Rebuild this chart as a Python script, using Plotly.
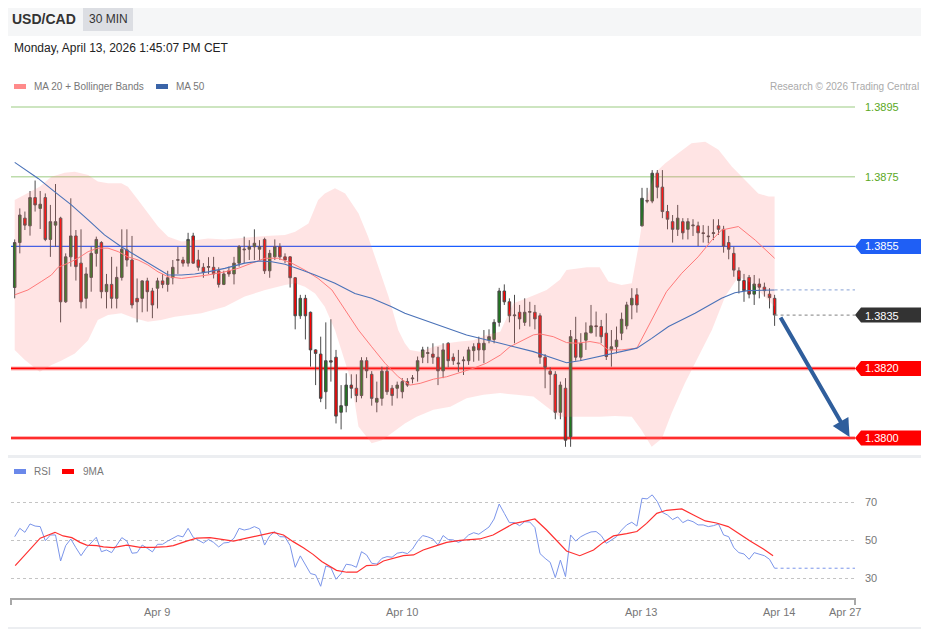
import plotly.graph_objects as go

# The page body has an 8px margin, so the figure is sized and positioned to compensate.
OFF = 8
W, H = 929 - OFF, 629 - OFF
def fx(px): return (px - OFF) / W
def fy(py): return 1 - (py - OFF) / H

# ---------------- data ----------------
candle_idx = list(range(150))
opens = [1.38432,1.38561,1.38631,1.38609,1.38690,1.38659,1.38690,1.38570,1.38611,1.38631,
1.38391,1.38520,1.38580,1.38502,1.38401,1.38461,1.38530,1.38561,1.38420,1.38441,
1.38401,1.38461,1.38540,1.38511,1.38401,1.38401,1.38451,1.38422,1.38430,1.38451,
1.38441,1.38460,1.38510,1.38511,1.38502,1.38580,1.38511,1.38490,1.38490,1.38490,
1.38480,1.38441,1.38480,1.38471,1.38502,1.38540,1.38542,1.38549,1.38542,1.38570,
1.38480,1.38520,1.38549,1.38520,1.38520,1.38460,1.38351,1.38401,1.38361,1.38253,
1.38241,1.38133,1.38222,1.38232,1.38074,1.38093,1.38152,1.38143,1.38122,1.38222,
1.38183,1.38103,1.38114,1.38192,1.38143,1.38143,1.38133,1.38162,1.38170,1.38193,
1.38232,1.38243,1.38241,1.38232,1.38193,1.38272,1.38232,1.38213,1.38222,1.38222,
1.38251,1.38272,1.38253,1.38281,1.38283,1.38332,1.38422,1.38391,1.38351,1.38361,
1.38332,1.38361,1.38361,1.38351,1.38232,1.38192,1.38183,1.38074,1.38143,1.38004,
1.38283,1.38232,1.38281,1.38302,1.38322,1.38320,1.38301,1.38253,1.38262,1.38301,
1.38322,1.38382,1.38411,1.38609,1.38682,1.38680,1.38760,1.38720,1.38650,1.38621,
1.38599,1.38621,1.38599,1.38609,1.38609,1.38589,1.38580,1.38587,1.38609,1.38599,
1.38561,1.38530,1.38480,1.38452,1.38461,1.38413,1.38442,1.38433,1.38413,1.38401]
highs = [1.38570,1.38659,1.38650,1.38709,1.38739,1.38709,1.38702,1.38669,1.38729,1.38635,
1.38530,1.38688,1.38597,1.38599,1.38490,1.38549,1.38578,1.38565,1.38471,1.38520,
1.38492,1.38599,1.38599,1.38580,1.38458,1.38453,1.38460,1.38431,1.38460,1.38471,
1.38480,1.38511,1.38549,1.38520,1.38589,1.38589,1.38540,1.38502,1.38519,1.38520,
1.38490,1.38480,1.38492,1.38520,1.38554,1.38578,1.38568,1.38599,1.38568,1.38575,
1.38540,1.38570,1.38559,1.38530,1.38522,1.38462,1.38411,1.38411,1.38363,1.38255,
1.38291,1.38332,1.38341,1.38253,1.38152,1.38186,1.38183,1.38183,1.38232,1.38232,
1.38192,1.38162,1.38205,1.38205,1.38152,1.38162,1.38172,1.38172,1.38181,1.38234,
1.38262,1.38262,1.38272,1.38262,1.38272,1.38275,1.38243,1.38253,1.38234,1.38262,
1.38272,1.38291,1.38310,1.38312,1.38341,1.38431,1.38441,1.38401,1.38411,1.38382,
1.38401,1.38391,1.38382,1.38358,1.38241,1.38203,1.38192,1.38162,1.38172,1.38310,
1.38348,1.38301,1.38332,1.38382,1.38363,1.38339,1.38358,1.38310,1.38320,1.38360,
1.38391,1.38430,1.38430,1.38718,1.38718,1.38769,1.38769,1.38769,1.38669,1.38640,
1.38669,1.38631,1.38631,1.38628,1.38621,1.38611,1.38609,1.38628,1.38628,1.38609,
1.38580,1.38549,1.38490,1.38471,1.38468,1.38468,1.38458,1.38446,1.38430,1.38411]
lows = [1.38401,1.38530,1.38597,1.38581,1.38650,1.38600,1.38565,1.38520,1.38549,1.38332,
1.38388,1.38492,1.38452,1.38372,1.38372,1.38420,1.38492,1.38401,1.38372,1.38372,
1.38372,1.38452,1.38492,1.38372,1.38332,1.38361,1.38363,1.38344,1.38372,1.38430,
1.38420,1.38441,1.38471,1.38492,1.38492,1.38500,1.38480,1.38460,1.38471,1.38458,
1.38432,1.38439,1.38463,1.38441,1.38492,1.38502,1.38511,1.38511,1.38511,1.38471,
1.38460,1.38511,1.38511,1.38502,1.38432,1.38312,1.38342,1.38283,1.38205,1.38152,
1.38103,1.38083,1.38162,1.38042,1.38025,1.38074,1.38114,1.38103,1.38114,1.38172,
1.38093,1.38074,1.38093,1.38124,1.38093,1.38114,1.38114,1.38147,1.38157,1.38162,
1.38215,1.38215,1.38213,1.38152,1.38172,1.38203,1.38210,1.38190,1.38181,1.38210,
1.38219,1.38222,1.38215,1.38272,1.38272,1.38320,1.38382,1.38332,1.38272,1.38312,
1.38322,1.38320,1.38312,1.38213,1.38143,1.38124,1.38054,1.38054,1.37975,1.37975,
1.38222,1.38222,1.38253,1.38301,1.38291,1.38272,1.38224,1.38205,1.38243,1.38281,
1.38312,1.38341,1.38360,1.38607,1.38674,1.38674,1.38688,1.38631,1.38599,1.38561,
1.38580,1.38570,1.38570,1.38580,1.38551,1.38561,1.38559,1.38568,1.38583,1.38532,
1.38513,1.38463,1.38415,1.38391,1.38401,1.38382,1.38401,1.38406,1.38372,1.38322]
closes = [1.38561,1.38640,1.38611,1.38690,1.38669,1.38671,1.38570,1.38621,1.38621,1.38391,
1.38520,1.38580,1.38492,1.38391,1.38471,1.38530,1.38570,1.38420,1.38441,1.38401,
1.38461,1.38542,1.38511,1.38382,1.38391,1.38451,1.38420,1.38382,1.38451,1.38441,
1.38460,1.38490,1.38512,1.38502,1.38570,1.38502,1.38490,1.38475,1.38492,1.38471,
1.38441,1.38471,1.38471,1.38502,1.38549,1.38542,1.38549,1.38559,1.38549,1.38480,
1.38530,1.38549,1.38520,1.38511,1.38460,1.38351,1.38401,1.38351,1.38253,1.38243,
1.38114,1.38222,1.38218,1.38063,1.38093,1.38152,1.38143,1.38122,1.38222,1.38193,
1.38114,1.38114,1.38192,1.38133,1.38122,1.38152,1.38162,1.38152,1.38172,1.38222,
1.38253,1.38245,1.38232,1.38193,1.38253,1.38222,1.38222,1.38215,1.38224,1.38253,
1.38262,1.38253,1.38272,1.38291,1.38332,1.38422,1.38391,1.38351,1.38353,1.38342,
1.38361,1.38363,1.38342,1.38232,1.38203,1.38183,1.38074,1.38152,1.37994,1.38291,
1.38232,1.38272,1.38302,1.38322,1.38320,1.38291,1.38234,1.38262,1.38281,1.38341,
1.38382,1.38401,1.38382,1.38688,1.38680,1.38760,1.38720,1.38650,1.38628,1.38599,
1.38631,1.38589,1.38621,1.38611,1.38589,1.38587,1.38578,1.38589,1.38599,1.38551,
1.38542,1.38482,1.38452,1.38423,1.38413,1.38442,1.38433,1.38423,1.38403,1.38353]

ma20_x = [0,2.6,5.2,7.2,8.5,10.5,12.4,14.4,16.3,18.3,20.3,22.2,24.2,26.1,28.1,30.1,32.7,35.3,37.9,41.2,
43.8,46.5,49.1,51.7,54.3,56.9,59.5,62.2,64.8,67.4,70,72.6,75.2,77.5,79.5,82.1,84.7,87.3,89.9,92.5,
95.2,97.1,99.1,101.7,103,105.6,108.2,110.2,112.8,114.7,116.4,119,122,124.9,127.8,130.8,134,136.7,138.6,141.9,
145.2,149]
ma20_y = [1.38411,1.38425,1.38449,1.38468,1.38490,1.38502,1.38516,1.38535,1.38545,1.38545,1.38535,1.38520,1.38511,1.38497,1.38477,1.38463,1.38458,1.38463,1.38468,1.38477,
1.38487,1.38502,1.38516,1.38516,1.38502,1.38482,1.38458,1.38425,1.38367,1.38310,1.38262,1.38215,1.38176,1.38152,1.38157,1.38169,1.38176,1.38188,1.38200,1.38215,
1.38238,1.38262,1.38277,1.38296,1.38299,1.38291,1.38274,1.38272,1.38277,1.38272,1.38253,1.38253,1.38258,1.38339,1.38420,1.38473,1.38520,1.38568,1.38597,1.38607,
1.38568,1.38516]

ma50_x = [0,4.6,7.8,11.1,14.4,17.6,20.9,24.2,27.5,30.1,32.7,35.3,37.9,41.2,45.1,48.1,50.4,53,56.3,58.9,
62.8,66.7,70,73.9,76.5,82.1,88.6,95.2,101.7,105.6,108.2,110.8,114.7,117.7,122,124.9,128.2,133.4,138.6,141.2,
143.8,149]
ma50_y = [1.38791,1.38745,1.38707,1.38669,1.38626,1.38583,1.38549,1.38520,1.38492,1.38468,1.38468,1.38471,1.38477,1.38487,1.38502,1.38508,1.38506,1.38499,1.38482,1.38468,
1.38444,1.38415,1.38401,1.38377,1.38358,1.38329,1.38296,1.38272,1.38248,1.38229,1.38216,1.38222,1.38234,1.38243,1.38258,1.38286,1.38320,1.38358,1.38401,1.38417,
1.38423,1.38425]

bb_up_x = [0,4.9,7.2,9.8,11.8,14.4,16.3,18.3,20.9,22.2,24.2,26.1,28.1,30.1,32.7,35.3,37.9,41.2,45.1,49.1,
53,55,57.6,59.5,60.8,62.8,64.8,67.4,69.3,71.3,73.3,75.2,76.5,77.5,79.5,82.1,84.7,87.3,89.9,92.5,
95.2,97.8,100.4,104.3,106.9,108.2,112.2,114.7,116.4,119,121,122.3,123.6,125.5,127.5,130.1,132.7,135.4,138,140.6,
143.2,145.8,147.8,149]
bb_up_y = [1.38683,1.38721,1.38750,1.38761,1.38764,1.38755,1.38736,1.38731,1.38731,1.38721,1.38683,1.38645,1.38607,1.38578,1.38564,1.38568,1.38573,1.38570,1.38576,1.38580,
1.38583,1.38592,1.38616,1.38683,1.38702,1.38717,1.38702,1.38645,1.38578,1.38492,1.38406,1.38310,1.38272,1.38253,1.38248,1.38262,1.38272,1.38277,1.38281,1.38296,
1.38305,1.38387,1.38401,1.38425,1.38454,1.38482,1.38490,1.38490,1.38449,1.38439,1.38444,1.38549,1.38674,1.38760,1.38788,1.38817,1.38846,1.38850,1.38827,1.38779,
1.38741,1.38702,1.38693,1.38693]
bb_lo_x = [0,2,4.9,7.2,9.1,11.8,14.4,16.3,18.3,20.9,23.5,26.1,28.7,31.4,34,36.6,41.2,45.1,49.1,53,
55,56.9,58.9,60.8,62.8,64.8,66.1,67.4,70,72,73.9,76.5,78.8,82.1,85.4,88.6,91.9,95.2,98.4,101.7,
104.3,106.9,109.5,112.2,114.7,117.7,121,122.9,124.9,126.9,128.8,131.4,134,136.7,139.3,141.9,144.5,147.1,149]
bb_lo_y = [1.38253,1.38224,1.38190,1.38210,1.38222,1.38243,1.38281,1.38339,1.38353,1.38358,1.38344,1.38334,1.38339,1.38348,1.38353,1.38358,1.38377,1.38406,1.38425,1.38439,
1.38444,1.38434,1.38415,1.38377,1.38310,1.38215,1.38157,1.38033,1.37985,1.37994,1.38014,1.38042,1.38061,1.38081,1.38090,1.38114,1.38124,1.38129,1.38124,1.38119,
1.38090,1.38061,1.38061,1.38061,1.38061,1.38063,1.38061,1.38023,1.37975,1.37999,1.38071,1.38157,1.38234,1.38310,1.38406,1.38463,1.38444,1.38406,1.38377]

rsi = [51.9,56.3,54.2,58.6,57.5,57.2,49.8,52.8,52.8,39.1,
47.2,50.7,46.1,41.9,45.8,48.9,51.6,44.0,44.9,43.5,
47.5,51.4,49.6,43.2,43.5,47.5,45.8,43.9,47.9,47.9,
49.6,51.1,52.5,51.8,56.3,51.6,50.2,48.6,50.4,48.9,
46.5,48.6,48.9,51.1,56.3,55.4,56.0,57.2,56.0,47.5,
52.3,54.6,51.9,51.8,47.2,35.8,41.8,37.4,32.5,31.8,
25.8,36.5,35.6,29.5,32.5,37.4,37.0,35.8,44.0,42.3,
37.9,37.5,40.5,41.4,41.1,43.2,43.7,43.0,45.4,49.6,
52.5,51.8,50.7,47.5,52.5,50.4,50.2,48.9,
50.2,52.8,54.0,53.2,54.9,57.0,61.2,69.1,64.2,59.3,
59.3,57.7,59.8,59.6,56.7,43.0,40.5,38.4,30.4,39.6,
30.9,52.8,49.6,51.9,53.3,54.4,54.6,52.5,48.4,50.2,
51.9,55.4,58.1,59.5,57.5,72.1,71.8,73.9,70.4,64.7,
63.3,60.9,62.3,59.3,60.7,59.8,58.1,58.1,57.2,57.7,
58.6,52.8,51.9,46.1,43.5,42.8,40.0,43.5,42.8,41.9,
40.0,35.3]
rsi_ma_x = [0.1,2.0,3.6,5.0,6.6,7.9,9.5,11.2,12.8,14.1,16.1,17.4,19.3,22.0,24.6,27.2,29.8,31.1,33.7,35.7,
38.3,40.3,42.9,45.5,48.1,50.7,52.7,54.6,56.6,58.5,60.2,61.8,63.1,65.1,67.1,69.0,71.0,72.3,74.2,76.2,
78.2,80.1,82.1,84.7,87.3,91.2,93.8,95.8,97.8,99.7,102.0,104.3,106.3,108.2,110.8,113.5,115.4,117.4,120.0,122.0,
123.9,125.9,127.8,130.8,133.1,135.4,137.6,139.9,142.2,144.2,146.8,148.7]
rsi_ma_y = [36.7,42.3,47.5,51.1,52.8,54.2,52.3,51.4,48.9,47.5,47.2,46.5,46.1,47.5,46.3,46.3,46.7,47.2,49.6,51.1,
51.4,50.7,49.6,51.1,52.8,54.2,52.8,49.3,46.1,42.6,38.8,36.1,34.2,33.2,33.2,36.7,37.0,39.1,40.5,41.9,
42.3,44.9,46.7,48.9,50.0,50.7,52.8,56.0,58.8,59.8,61.2,55.4,49.6,44.4,41.9,44.9,48.9,52.3,53.5,54.6,
58.9,64.2,65.8,66.5,63.3,60.2,59.1,57.2,53.2,49.6,45.4,41.9]

resistance_levels = [1.3895, 1.3875]
pivot_level = 1.3855
support_levels = [1.3820, 1.3800]
rsi_levels = [70, 50, 30]
tick_pos = [27.9, 75.9, 122.8, 149.9, 162.8]
tick_labels = ["Apr 9", "Apr 10", "Apr 13", "Apr 14", "Apr 27"]
target_level = 1.3800

# ---------------- layout geometry ----------------
X_LEFT, X_RIGHT = 11, 855
XR = [(X_LEFT - 14.7) / 5.1, (X_RIGHT - 14.7) / 5.1]
P_TOP, P_BOT = 95, 455
Y_RANGE = [1.3895 - (P_BOT - 107) / 34850, 1.3895 + (107 - P_TOP) / 34850]
R_TOP, R_BOT = 480, 590
R_RANGE = [50 - (R_BOT - 540.3) / 1.9, 50 + (540.3 - R_TOP) / 1.9]
FONT = "Liberation Sans, Arial, sans-serif"
last_close = closes[-1]
last_ma50 = ma50_y[-1]
last_rsi = rsi[-1]

fig = go.Figure()

# Bollinger band
fig.add_trace(go.Scatter(x=bb_up_x + bb_lo_x[::-1], y=bb_up_y + bb_lo_y[::-1], fill="toself",
                         fillcolor="rgba(255,120,120,0.2)", line=dict(width=0), mode="lines",
                         hoverinfo="skip", xaxis="x", yaxis="y"))
fig.add_trace(go.Scatter(x=ma20_x, y=ma20_y, mode="lines", line=dict(color="#ff7a7a", width=1),
                         xaxis="x", yaxis="y"))
fig.add_trace(go.Scatter(x=ma50_x, y=ma50_y, mode="lines", line=dict(color="#4a72b8", width=1.1),
                         xaxis="x", yaxis="y"))
fig.add_trace(go.Scatter(x=[ma50_x[-1], XR[1]], y=[last_ma50, last_ma50], mode="lines",
                         line=dict(color="#9fb4dd", width=1.2, dash="dot"), xaxis="x", yaxis="y"))
fig.add_trace(go.Scatter(x=[candle_idx[-1], XR[1]], y=[last_close, last_close], mode="lines",
                         line=dict(color="#999999", width=1.2, dash="dot"), xaxis="x", yaxis="y"))
fig.add_trace(go.Candlestick(x=candle_idx, open=opens, high=highs, low=lows, close=closes,
                             increasing=dict(line=dict(color="#4a4a4a", width=1), fillcolor="#1f7a1f"),
                             decreasing=dict(line=dict(color="#4a4a4a", width=1), fillcolor="#ff0000"),
                             whiskerwidth=0, xaxis="x", yaxis="y"))

# RSI
fig.add_trace(go.Scatter(x=candle_idx, y=rsi, mode="lines", line=dict(color="#7b95ea", width=1),
                         xaxis="x2", yaxis="y2"))
fig.add_trace(go.Scatter(x=[candle_idx[-1], XR[1]], y=[last_rsi, last_rsi], mode="lines",
                         line=dict(color="#7b95ea", width=1, dash="dot"), xaxis="x2", yaxis="y2"))
fig.add_trace(go.Scatter(x=rsi_ma_x, y=rsi_ma_y, mode="lines", line=dict(color="#ff3030", width=1.2),
                         xaxis="x2", yaxis="y2"))

shapes = []
# page panels
shapes.append(dict(type="rect", xref="paper", yref="paper", x0=fx(OFF), x1=fx(929), y0=fy(OFF), y1=fy(36),
                   fillcolor="#f5f6f7", line=dict(width=0), layer="below"))
shapes.append(dict(type="rect", xref="paper", yref="paper", x0=fx(OFF), x1=fx(927), y0=fy(36), y1=fy(455),
                   fillcolor="white", line=dict(width=0), layer="below"))
shapes.append(dict(type="rect", xref="paper", yref="paper", x0=fx(OFF), x1=fx(927), y0=fy(458), y1=fy(627),
                   fillcolor="white", line=dict(width=0), layer="below"))
shapes.append(dict(type="rect", xref="paper", yref="paper", x0=fx(83), x1=fx(133), y0=fy(7), y1=fy(31),
                   fillcolor="#dcdee3", line=dict(width=0), layer="below"))
# legend swatches
shapes.append(dict(type="rect", xref="paper", yref="paper", x0=fx(14), x1=fx(26), y0=fy(84), y1=fy(89),
                   fillcolor="#ff8a8a", line=dict(width=0)))
shapes.append(dict(type="rect", xref="paper", yref="paper", x0=fx(156), x1=fx(168), y0=fy(84), y1=fy(89),
                   fillcolor="#3a64a8", line=dict(width=0)))
shapes.append(dict(type="rect", xref="paper", yref="paper", x0=fx(14), x1=fx(26), y0=fy(469), y1=fy(474),
                   fillcolor="#6a88ea", line=dict(width=0)))
shapes.append(dict(type="rect", xref="paper", yref="paper", x0=fx(62), x1=fx(74), y0=fy(469), y1=fy(474),
                   fillcolor="#ff0000", line=dict(width=0)))
# level lines
for lv in resistance_levels:
    shapes.append(dict(type="line", xref="x domain", yref="y", x0=0, x1=1, y0=lv, y1=lv,
                       line=dict(color="#bddcab", width=1.5), layer="below"))
shapes.append(dict(type="line", xref="x domain", yref="y", x0=0, x1=1, y0=pivot_level, y1=pivot_level,
                   line=dict(color="#1a5cff", width=1.2), layer="below"))
for lv in support_levels:
    shapes.append(dict(type="line", xref="x domain", yref="y", x0=0, x1=1, y0=lv, y1=lv,
                       line=dict(color="rgba(255,0,0,0.3)", width=4), layer="below"))
    shapes.append(dict(type="line", xref="x domain", yref="y", x0=0, x1=1, y0=lv, y1=lv,
                       line=dict(color="#ff0000", width=1.6), layer="below"))

# price label boxes
hh = 7.5 / 34850
def tag(level, color):
    xt, xl, xr = fx(855), fx(861), fx(926)
    path = (f"M {xt},{level} L {xl},{level + hh} L {xr},{level + hh} "
            f"L {xr},{level - hh} L {xl},{level - hh} Z")
    shapes.append(dict(type="path", xref="paper", yref="y", path=path, fillcolor=color,
                       line=dict(width=0)))
tag(pivot_level, "#1f5ff5")
tag(last_close, "#333333")
for lv in support_levels:
    tag(lv, "#ff0000")

# x axis line with end ticks
shapes.append(dict(type="line", xref="paper", yref="paper", x0=fx(11), x1=fx(855), y0=fy(599), y1=fy(599),
                   line=dict(color="#a8a8a8", width=2)))
for xp in (11, 855):
    shapes.append(dict(type="line", xref="paper", yref="paper", x0=fx(xp), x1=fx(xp), y0=fy(598), y1=fy(605),
                       line=dict(color="#a8a8a8", width=2)))

ann = []
def text(x, y, s, size=11, color="#666", anchor="left", yref="paper"):
    ann.append(dict(x=fx(x), y=(fy(y) if yref == "paper" else y), xref="paper", yref=yref, text=s,
                    showarrow=False, xanchor=anchor, yanchor="middle",
                    font=dict(family=FONT, size=size, color=color)))

text(10, 19, "<b>USD/CAD</b>", 14, "#333")
text(108, 19, "30 MIN", 12, "#333", "center")
text(12, 48, "Monday, April 13, 2026 1:45:07 PM CET", 12, "#222")
text(32, 86, "MA 20 + Bollinger Bands", 10, "#777")
text(174, 86, "MA 50", 10, "#777")
text(921, 86, "Research © 2026 Trading Central", 10, "#aaa", "right")
text(32, 471, "RSI", 10, "#777")
text(81, 471, "9MA", 10, "#777")
for lv in resistance_levels:
    text(863, lv, f"{lv:.4f}", 11, "#5aa81e", yref="y")
for lv in [pivot_level, last_close] + support_levels:
    text(863, round(lv, 4), f"{lv:.4f}", 11, "white", yref="y")
for lv in rsi_levels:
    ann.append(dict(x=fx(863), y=lv, xref="paper", yref="y2", text=str(lv), showarrow=False,
                    xanchor="left", yanchor="middle", font=dict(family=FONT, size=11, color="#777")))
for p, lab in zip(tick_pos, tick_labels):
    ann.append(dict(x=p, y=fy(612), xref="x2", yref="paper", text=lab, showarrow=False,
                    xanchor="center", yanchor="middle", font=dict(family=FONT, size=11, color="#777")))

# target arrow
ann.append(dict(x=163.7, y=target_level + 0.00003, ax=150.0, ay=last_close - 0.00003, xref="x", yref="y",
                axref="x", ayref="y", text="", showarrow=True, arrowhead=2, arrowsize=0.9,
                arrowwidth=4, arrowcolor="#2f5e9c", standoff=0, startstandoff=0))

fig.update_layout(
    width=W, height=H, margin=dict(l=0, r=0, t=0, b=0),
    paper_bgcolor="#eceef1", plot_bgcolor="rgba(0,0,0,0)",
    showlegend=False, shapes=shapes, annotations=ann,
    xaxis=dict(domain=[fx(X_LEFT), fx(X_RIGHT)], range=XR, visible=False, rangeslider=dict(visible=False),
               anchor="y"),
    yaxis=dict(domain=[fy(P_BOT), fy(P_TOP)], range=Y_RANGE, visible=False, anchor="x"),
    xaxis2=dict(domain=[fx(X_LEFT), fx(X_RIGHT)], range=XR, showticklabels=False, showgrid=False,
                zeroline=False, showline=False, ticks="", anchor="y2"),
    yaxis2=dict(domain=[fy(R_BOT), fy(R_TOP)], range=R_RANGE, tickvals=rsi_levels, showticklabels=False,
                showgrid=True, gridcolor="#c4c4c4", griddash="dot", gridwidth=1, zeroline=False,
                ticks="", anchor="x2"),
    font=dict(family=FONT),
)

fig.write_html("out.html")
